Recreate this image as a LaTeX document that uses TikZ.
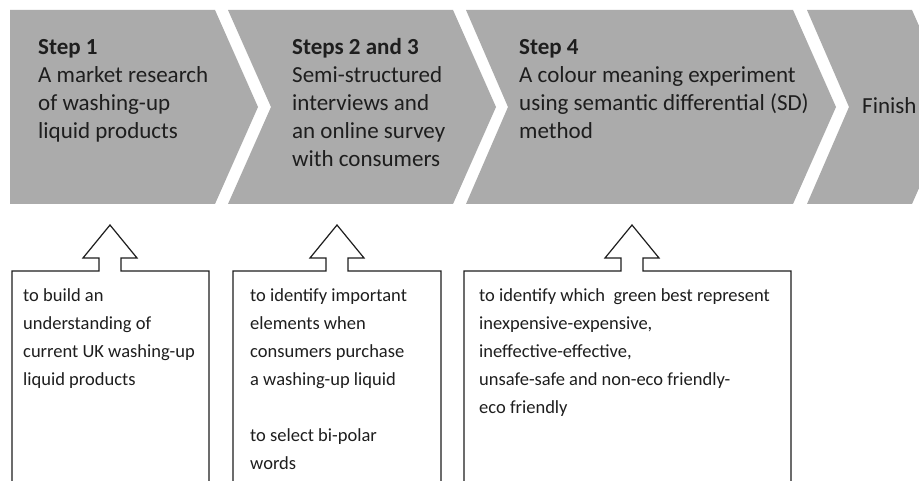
\documentclass[tikz,border=0pt]{standalone}
\usepackage{fontspec}
\setmainfont{Carlito}
\definecolor{chevgray}{RGB}{171,171,171}
\definecolor{inkgray}{RGB}{30,30,30}
\begin{document}
\begin{tikzpicture}[x=1pt,y=-1pt,
		chevron/.style={fill=chevgray,draw=none},
		callout/.style={draw=inkgray,line width=1.2pt,line join=miter},
		steptext/.style={anchor=north west,inner sep=0pt,align=left,text=inkgray,font=\fontsize{23}{28}\selectfont},
		aimtext/.style={anchor=north west,inner sep=0pt,align=left,text=inkgray,font=\fontsize{18.5}{28}\selectfont}]
		\useasboundingbox (0,0) rectangle (919,481);
		\clip (0,0) rectangle (919,481);
		\fill [white] (0,0) rectangle (919,481);
		\draw [chevron] (10,10) -- (215,10) -- (258,107) -- (215,204) -- (10,204) -- cycle;
		\draw [chevron] (228,10) -- (453,10) -- (496,107) -- (453,204) -- (228,204) -- (271,107) -- cycle;
		\draw [chevron] (466,10) -- (793,10) -- (836,107) -- (793,204) -- (466,204) -- (508,107) -- cycle;
		\draw [chevron] (807,10) -- (912,10) -- (955,107) -- (912,204) -- (807,204) -- (849,107) -- cycle;
		\node [steptext] (step1) at (38,34.4) {\strut\textbf{Step 1}\\A market research\\of washing-up\\liquid products};
		\node [steptext] (step23) at (292,34.4) {\strut\textbf{Steps 2 and 3}\\Semi-structured\\interviews and\\an online survey\\with consumers};
		\node [steptext] (step4) at (519,34.4) {\strut\textbf{Step 4}\\A colour meaning experiment\\using semantic differential (SD)\\method};
		\node [anchor=base west,inner sep=0pt,text=inkgray,font=\fontsize{23}{28}\selectfont] (finish) at (862,114) {Finish};
		% callouts pointing up to the steps
		\coordinate (tip1) at (110,225);
		\coordinate (tip23) at (337,225);
		\coordinate (tip4) at (632,225);
		\draw [callout] (12,495) -- (12,271) -- ([xshift=-11pt]tip1 |- 0,271) -- ([xshift=-11pt]tip1 |- 0,258) -- ([xshift=-27pt]tip1 |- 0,258) -- (tip1) -- ([xshift=27pt]tip1 |- 0,258) -- ([xshift=11pt]tip1 |- 0,258) -- ([xshift=11pt]tip1 |- 0,271) -- (209,271) -- (209,495);
		\draw [callout] (233,495) -- (233,271) -- ([xshift=-11pt]tip23 |- 0,271) -- ([xshift=-11pt]tip23 |- 0,258) -- ([xshift=-27pt]tip23 |- 0,258) -- (tip23) -- ([xshift=27pt]tip23 |- 0,258) -- ([xshift=11pt]tip23 |- 0,258) -- ([xshift=11pt]tip23 |- 0,271) -- (441,271) -- (441,495);
		\draw [callout] (464,495) -- (464,271) -- ([xshift=-11pt]tip4 |- 0,271) -- ([xshift=-11pt]tip4 |- 0,258) -- ([xshift=-27pt]tip4 |- 0,258) -- (tip4) -- ([xshift=27pt]tip4 |- 0,258) -- ([xshift=11pt]tip4 |- 0,258) -- ([xshift=11pt]tip4 |- 0,271) -- (791,271) -- (791,495);
		\node [aimtext] (aim1) at (23,282) {\strut to build an\\understanding of\\current UK washing-up\\liquid products};
		\node [aimtext] (aim23) at (250,282) {\strut to identify important\\elements when\\consumers purchase\\a washing-up liquid\\[28pt]to select bi-polar\\words};
		\node [aimtext] (aim4) at (479,282) {\strut to identify which~ green best represent\\inexpensive-expensive,\\ineffective-effective,\\unsafe-safe and non-eco friendly-\\eco friendly};
	\end{tikzpicture}
\end{document}
